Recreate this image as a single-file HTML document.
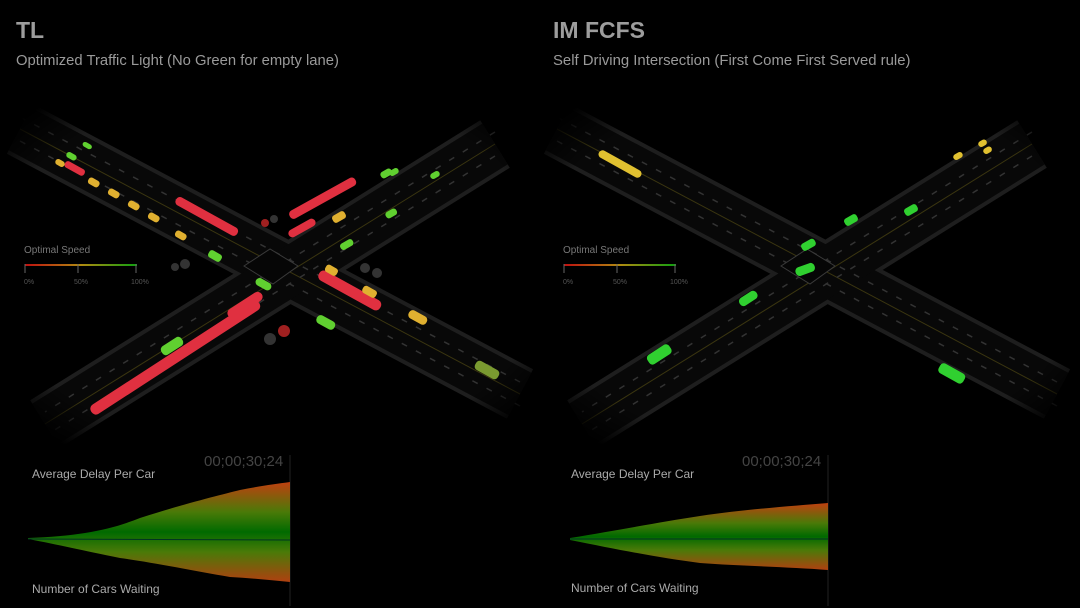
<!DOCTYPE html>
<html><head><meta charset="utf-8"><style>
html,body{margin:0;padding:0;background:#000;}
body{width:1080px;height:608px;overflow:hidden;position:relative;font-family:"Liberation Sans",sans-serif;}
.t{position:absolute;color:#9a9a9a;white-space:nowrap;}
</style></head><body>
<svg width="1080" height="608" style="position:absolute;left:0;top:0">
<defs>
<linearGradient id="sp" x1="0" x2="1"><stop offset="0" stop-color="#c01010"/><stop offset="0.5" stop-color="#b08a10"/><stop offset="1" stop-color="#10a010"/></linearGradient>
<linearGradient id="ch" x1="0" y1="0" x2="0" y2="1"><stop offset="0" stop-color="#c04010"/><stop offset="0.3" stop-color="#4a7a08"/><stop offset="0.5" stop-color="#006a00"/><stop offset="0.7" stop-color="#4a7a08"/><stop offset="1" stop-color="#b04010"/></linearGradient>
<linearGradient id="ax" x1="0" y1="0" x2="0" y2="1"><stop offset="0" stop-color="#801010"/><stop offset="0.5" stop-color="#108010"/><stop offset="1" stop-color="#801010"/></linearGradient>
<radialGradient id="fade" gradientUnits="userSpaceOnUse" cx="0" cy="0" r="340" gradientTransform="scale(1 0.65)">
<stop offset="0.82" stop-color="#fff"/><stop offset="1" stop-color="#000"/></radialGradient>
<mask id="m" maskUnits="userSpaceOnUse" x="-300" y="-200" width="600" height="400"><rect x="-300" y="-200" width="600" height="400" fill="url(#fade)"/></mask>
<g id="roads">
<g mask="url(#m)">
<line x1="-250" y1="-140" x2="250" y2="125" stroke="#1e1e1e" stroke-width="56"/>
<line x1="225" y1="-125" x2="-225" y2="155" stroke="#1e1e1e" stroke-width="56"/>
<line x1="-250" y1="-140" x2="250" y2="125" stroke="#080808" stroke-width="48"/>
<line x1="225" y1="-125" x2="-225" y2="155" stroke="#080808" stroke-width="48"/>
<line x1="-250" y1="-140" x2="250" y2="125" stroke="#3a3510" stroke-width="1"/>
<line x1="225" y1="-125" x2="-225" y2="155" stroke="#3a3510" stroke-width="1"/>
<g stroke="#333" stroke-width="1.5" stroke-dasharray="6 10">
<line x1="-250" y1="-152" x2="250" y2="113"/><line x1="-250" y1="-128" x2="250" y2="137"/>
<line x1="225" y1="-137" x2="-225" y2="143"/><line x1="225" y1="-113" x2="-225" y2="167"/>
</g>
</g>
<polygon points="-26,-3 0,-20 28,-3 3,15" fill="#060606" stroke="#3a3a3a" stroke-width="1"/>
</g>
</defs>
<use href="#roads" x="270" y="269"/>
<use href="#roads" x="807" y="269"/>
<g>
<rect x="25" y="264" width="112" height="2" fill="url(#sp)"/>
<line x1="25" y1="264" x2="25" y2="273" stroke="#666"/><line x1="78" y1="264" x2="78" y2="273" stroke="#666"/><line x1="136" y1="264" x2="136" y2="273" stroke="#666"/>
<rect x="564" y="264" width="112" height="2" fill="url(#sp)"/>
<line x1="564" y1="264" x2="564" y2="273" stroke="#666"/><line x1="617" y1="264" x2="617" y2="273" stroke="#666"/><line x1="675" y1="264" x2="675" y2="273" stroke="#666"/>
</g>
<g font-family="Liberation Sans" font-size="7" fill="#555">
<text x="24" y="284">0%</text><text x="74" y="284">50%</text><text x="131" y="284">100%</text>
<text x="563" y="284">0%</text><text x="613" y="284">50%</text><text x="670" y="284">100%</text>
</g>
<g>
<g fill="#e03040">
<rect x="172" y="212" width="70" height="9" rx="4" transform="rotate(29 207 216)"/>
<rect x="285" y="194" width="75" height="9" rx="4" transform="rotate(-29 322 198)"/>
<rect x="287" y="224" width="30" height="8" rx="4" transform="rotate(-29 302 228)"/>
<rect x="75" y="352" width="200" height="11" rx="5" transform="rotate(-33 175 357)"/>
<rect x="225" y="300" width="40" height="10" rx="5" transform="rotate(-33 245 305)"/>
<rect x="315" y="285" width="70" height="11" rx="5" transform="rotate(29 350 290)"/>
<rect x="64" y="165" width="22" height="7" rx="3" transform="rotate(29 75 168)"/>
</g>
<g fill="#e0b030">
<rect x="88" y="179" width="12" height="7" rx="3" transform="rotate(29 94 182)"/>
<rect x="108" y="190" width="12" height="7" rx="3" transform="rotate(29 114 193)"/>
<rect x="128" y="202" width="12" height="7" rx="3" transform="rotate(29 134 205)"/>
<rect x="148" y="214" width="12" height="7" rx="3" transform="rotate(29 154 217)"/>
<rect x="175" y="232" width="12" height="7" rx="3" transform="rotate(29 181 235)"/>
<rect x="55" y="160" width="10" height="6" rx="3" transform="rotate(29 60 163)"/>
<rect x="325" y="266" width="13" height="8" rx="3" transform="rotate(29 331 270)"/>
<rect x="362" y="288" width="15" height="8" rx="3" transform="rotate(29 370 292)"/>
<rect x="408" y="313" width="20" height="9" rx="4" transform="rotate(29 418 317)"/>
<rect x="332" y="213" width="14" height="8" rx="3" transform="rotate(-29 339 217)"/>
</g>
<g fill="#60d030">
<rect x="160" y="341" width="24" height="10" rx="4" transform="rotate(-33 172 346)"/>
<rect x="255" y="280" width="17" height="8" rx="4" transform="rotate(29 263 284)"/>
<rect x="208" y="252" width="14" height="8" rx="3" transform="rotate(29 215 256)"/>
<rect x="316" y="318" width="20" height="9" rx="4" transform="rotate(29 326 322)"/>
<rect x="340" y="241" width="14" height="7" rx="3" transform="rotate(-29 347 245)"/>
<rect x="385" y="210" width="12" height="7" rx="3" transform="rotate(-29 391 213)"/>
<rect x="380" y="170" width="12" height="7" rx="3" transform="rotate(-29 386 173)"/>
<rect x="389" y="169" width="10" height="6" rx="3" transform="rotate(-29 394 172)"/>
<rect x="430" y="172" width="10" height="6" rx="3" transform="rotate(-29 435 175)"/>
<rect x="66" y="153" width="11" height="6" rx="3" transform="rotate(29 71 156)"/>
<rect x="82" y="143" width="10" height="5" rx="3" transform="rotate(29 87 146)"/>
<rect x="474" y="365" width="26" height="10" rx="4" fill="#7a9a30" transform="rotate(29 487 370)"/>
</g>
<circle cx="284" cy="331" r="6" fill="#a02020"/><circle cx="270" cy="339" r="6" fill="#333"/>
<circle cx="185" cy="264" r="5" fill="#333"/><circle cx="175" cy="267" r="4" fill="#333"/>
<circle cx="365" cy="268" r="5" fill="#333"/><circle cx="377" cy="273" r="5" fill="#333"/>
<circle cx="265" cy="223" r="4" fill="#a02020"/><circle cx="274" cy="219" r="4" fill="#333"/>
</g>
<g>
<g fill="#e0c030">
<rect x="596" y="160" width="48" height="8" rx="4" transform="rotate(29 620 164)"/>
<rect x="953" y="153" width="10" height="6" rx="3" transform="rotate(-29 958 156)"/>
<rect x="978" y="140" width="9" height="6" rx="3" transform="rotate(-29 983 143)"/>
<rect x="983" y="147" width="9" height="6" rx="3" transform="rotate(-29 988 150)"/>
</g>
<g fill="#30d030">
<rect x="844" y="216" width="14" height="8" rx="3" transform="rotate(-29 851 220)"/>
<rect x="904" y="206" width="14" height="8" rx="3" transform="rotate(-29 911 210)"/>
<rect x="801" y="241" width="15" height="8" rx="3" transform="rotate(-29 808 245)"/>
<rect x="795" y="265" width="20" height="9" rx="4" transform="rotate(-20 805 269)"/>
<rect x="738" y="294" width="20" height="9" rx="4" transform="rotate(-33 748 298)"/>
<rect x="646" y="349" width="26" height="11" rx="4" transform="rotate(-33 659 354)"/>
<rect x="938" y="368" width="28" height="11" rx="4" transform="rotate(29 952 373)"/>
</g>
</g>
<line x1="27" y1="468" x2="27" y2="594" stroke="url(#ax)" stroke-width="2"/>
<line x1="290" y1="455" x2="290" y2="606" stroke="#222" stroke-width="1"/>
<path d="M28,538 C80,536 110,530 140,518 C180,505 220,495 240,490 C260,486 275,484 290,482 L290,582 C270,580 250,578 230,577 C190,570 150,562 120,558 C80,550 60,545 28,539 Z" fill="url(#ch)"/>
<line x1="28" y1="539" x2="290" y2="540" stroke="#032" stroke-width="1"/>
<line x1="566" y1="468" x2="566" y2="594" stroke="url(#ax)" stroke-width="2"/>
<line x1="828" y1="455" x2="828" y2="606" stroke="#222" stroke-width="1"/>
<path d="M570,538 C620,530 660,522 700,516 C740,510 790,506 828,503 L828,570 C790,567 740,566 700,563 C660,558 620,550 570,540 Z" fill="url(#ch)"/>
<line x1="570" y1="539" x2="828" y2="539" stroke="#032" stroke-width="1"/>
</svg>
<div class="t" style="left:16px;top:17px;font-size:23px;font-weight:bold;color:#9d9d9d">TL</div>
<div class="t" style="left:16px;top:53px;font-size:14.8px">Optimized Traffic Light (No Green for empty lane)</div>
<div class="t" style="left:553px;top:17px;font-size:23px;font-weight:bold;color:#9d9d9d">IM FCFS</div>
<div class="t" style="left:553px;top:53px;font-size:14.9px">Self Driving Intersection (First Come First Served rule)</div>
<div class="t" style="left:24px;top:245px;font-size:10px;color:#777">Optimal Speed</div>
<div class="t" style="left:563px;top:245px;font-size:10px;color:#777">Optimal Speed</div>
<div class="t" style="left:32px;top:467px;font-size:12px;color:#aaa">Average Delay Per Car</div>
<div class="t" style="left:32px;top:582px;font-size:12px;color:#aaa">Number of Cars Waiting</div>
<div class="t" style="left:204px;top:453px;font-size:15px;color:#444">00;00;30;24</div>
<div class="t" style="left:571px;top:467px;font-size:12px;color:#aaa">Average Delay Per Car</div>
<div class="t" style="left:571px;top:581px;font-size:12px;color:#aaa">Number of Cars Waiting</div>
<div class="t" style="left:742px;top:453px;font-size:15px;color:#444">00;00;30;24</div>
</body></html>
